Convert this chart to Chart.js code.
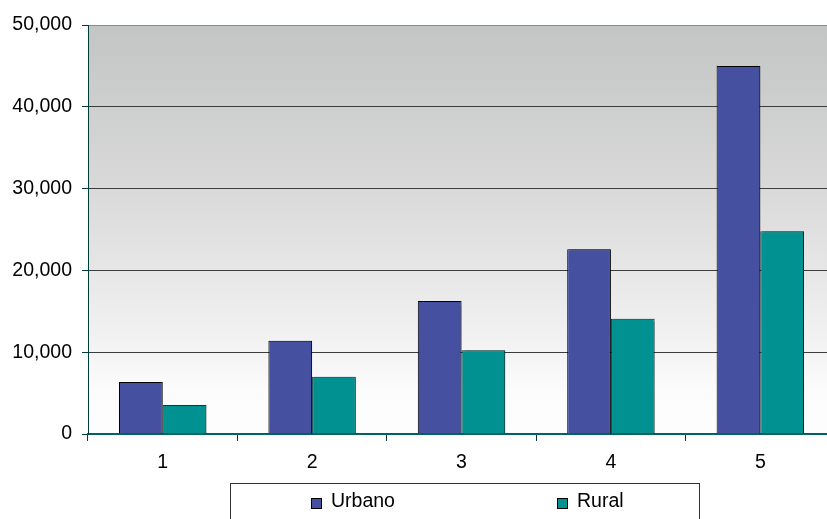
<!DOCTYPE html>
<html>
<head>
<meta charset="utf-8">
<script src="https://cdn.jsdelivr.net/npm/chart.js@4.4.0/dist/chart.umd.min.js"></script>
<style>
    html, body { margin: 0; padding: 0; background: #fff; overflow: hidden; }
    #wrap { width: 835px; height: 519px; position: relative; }
</style>
</head>
<body>
<div id="wrap"><canvas id="grafico"></canvas></div>
<script>
const categorias = ['1', '2', '3', '4', '5'];
const urbano = [6350, 11400, 16250, 22600, 45000];
const rural = [3550, 7000, 10250, 14100, 24800];
const nomesSeries = ['Urbano', 'Rural'];
const coresSeries = ['#4650a0', '#009190'];

const fonte = '"Liberation Sans", Arial, sans-serif';

// fundo em degradê da área de plotagem
const fundoPlot = {
    id: 'fundoPlot',
    beforeDraw(chart) {
        const { ctx, chartArea: a } = chart;
        const g = ctx.createLinearGradient(0, a.top, 0, a.bottom);
        g.addColorStop(0, '#c3c4c4');
        g.addColorStop(0.4, '#d9d9d9');
        g.addColorStop(0.8, '#f4f4f4');
        g.addColorStop(0.9, '#fcfcfd');
        g.addColorStop(1, '#fcfdfe');
        ctx.save();
        ctx.fillStyle = g;
        ctx.fillRect(a.left, a.top, a.right - a.left, a.bottom - a.top);
        ctx.restore();
    }
};

// sombra leve à direita das barras
const sombraBarras = {
    id: 'sombraBarras',
    beforeDatasetsDraw(chart) {
        const ctx = chart.ctx;
        ctx.save();
        ctx.shadowColor = 'rgba(0,0,0,0.3)';
        ctx.shadowOffsetX = 3;
        ctx.shadowOffsetY = 0;
        ctx.shadowBlur = 1;
    },
    afterDatasetsDraw(chart) {
        chart.ctx.restore();
    }
};

// legenda com moldura, abaixo do eixo
const legendaCaixa = {
    id: 'legendaCaixa',
    afterDraw(chart) {
        const { ctx } = chart;
        const x0 = 230.5, y0 = 483.5, w = 469, h = 40;
        ctx.save();
        ctx.fillStyle = '#fff';
        ctx.fillRect(x0, y0, w, h);
        ctx.strokeStyle = '#333';
        ctx.lineWidth = 1;
        ctx.strokeRect(x0, y0, w, h);
        ctx.font = '19.5px ' + fonte;
        ctx.textBaseline = 'middle';
        const posX = [311, 557];
        chart.data.datasets.forEach((ds, i) => {
            ctx.fillStyle = ds.backgroundColor;
            ctx.fillRect(posX[i] + 0.5, 498.5, 10, 10);
            ctx.strokeStyle = '#000';
            ctx.strokeRect(posX[i] + 0.5, 498.5, 10, 10);
            ctx.fillStyle = '#000';
            ctx.fillText(ds.label, posX[i] + 20, 502);
        });
        ctx.restore();
    }
};

const ctx = document.getElementById('grafico').getContext('2d');
new Chart(ctx, {
    type: 'bar',
    data: {
        labels: categorias,
        datasets: [
            { label: nomesSeries[0], data: urbano, backgroundColor: coresSeries[0], borderColor: '#000', borderWidth: 1 },
            { label: nomesSeries[1], data: rural, backgroundColor: coresSeries[1], borderColor: '#003c3c', borderWidth: 1 }
        ]
    },
    options: {
        responsive: true,
        maintainAspectRatio: false,
        animation: false,
        layout: { padding: { top: 25, right: 0, bottom: 50, left: 0 } },
        datasets: {
            bar: { categoryPercentage: 0.585, barPercentage: 1.0 }
        },
        plugins: {
            legend: { display: false },
            tooltip: { enabled: false }
        },
        scales: {
            x: {
                grid: {
                    drawOnChartArea: false,
                    drawTicks: true,
                    tickLength: 7,
                    color: '#003c3c'
                },
                border: { color: '#006464', width: 2 },
                ticks: {
                    color: '#000',
                    font: { family: fonte, size: 19.5 },
                    padding: 10
                },
                afterFit(scale) { scale.height = 35; }
            },
            y: {
                min: 0,
                max: 50000,
                grid: {
                    color: ctx => ctx.tick && ctx.tick.value === 50000 ? '#8a8a8a' : '#3c3c3c',
                    tickColor: '#003c3c',
                    tickLength: 6,
                    lineWidth: 1
                },
                border: { color: '#003c3c', width: 1 },
                ticks: {
                    stepSize: 10000,
                    color: '#000',
                    padding: 10,
                    font: { family: fonte, size: 19.5 },
                    callback: v => v.toLocaleString('en-US')
                },
                afterFit(scale) { scale.width = 88; }
            }
        }
    },
    plugins: [fundoPlot, sombraBarras, legendaCaixa]
});
</script>
</body>
</html>
